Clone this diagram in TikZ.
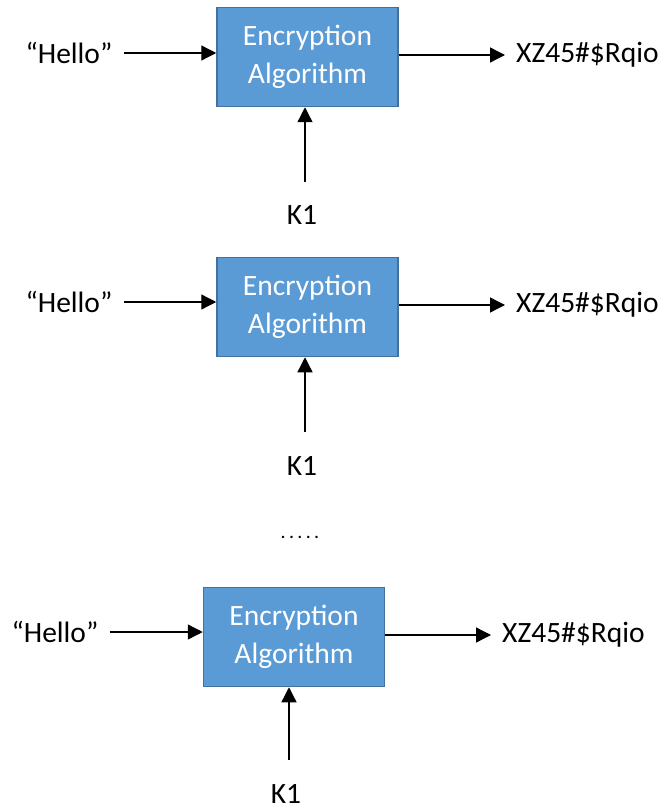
\documentclass[tikz,border=0pt]{standalone}
\usepackage{fontspec}
\setmainfont{Carlito}
\usetikzlibrary{arrows.meta,positioning}
\definecolor{BoxBlue}{RGB}{91,155,213}
\definecolor{BoxEdge}{RGB}{65,113,156}
\tikzset{
  encbox/.style={draw=BoxEdge,fill=BoxBlue,line width=1.5pt,
                 minimum width=181pt,minimum height=99pt,
                 text=white,align=center,inner sep=0pt,
                 font=\fontsize{29.5}{38}\selectfont},
  lbl/.style={font=\fontsize{29.5}{34}\selectfont,inner sep=11pt},
  keylbl/.style={font=\fontsize{29.5}{34}\selectfont,inner sep=2pt},
  arr/.style={-{Triangle[length=15pt,width=15pt]},line width=1.3pt},
}
\begin{document}
\begin{tikzpicture}[x=1pt,y=-1pt]
  \useasboundingbox (0,0) rectangle (662,810);

  % first round
  \node[encbox] (enc1) at (307.5,57) {Encryption\\Algorithm};
  \node[lbl] (msg1) at (69,53) {“Hello”};
  \node[lbl,anchor=west] (out1) at (505,55) {XZ45\#\$Rqio};
  \node[keylbl] (key1) at (302,215) {K1};
  \coordinate (k1) at (305,182);
  \draw[arr] (msg1.east) -- (msg1.east -| enc1.west);
  \draw[arr] (enc1.east |- out1.west) -- (out1.west);
  \draw[arr] (k1) -- (k1 |- enc1.south);

  % second round
  \node[encbox] (enc2) at (307.5,307) {Encryption\\Algorithm};
  \node[lbl] (msg2) at (69,302) {“Hello”};
  \node[lbl,anchor=west] (out2) at (505,305) {XZ45\#\$Rqio};
  \node[keylbl] (key2) at (302,466) {K1};
  \coordinate (k2) at (305,432);
  \draw[arr] (msg2.east) -- (msg2.east -| enc2.west);
  \draw[arr] (enc2.east |- out2.west) -- (out2.west);
  \draw[arr] (k2) -- (k2 |- enc2.south);

  \node[anchor=base,font=\fontsize{20}{24}\selectfont] (dots) at (300,538) {.\,.\,.\,.\,.};

  % last round
  \node[encbox] (enc3) at (294,637) {Encryption\\Algorithm};
  \node[lbl] (msg3) at (55,632) {“Hello”};
  \node[lbl,anchor=west] (out3) at (491,635) {XZ45\#\$Rqio};
  \node[keylbl] (key3) at (286,794) {K1};
  \coordinate (k3) at (289,760);
  \draw[arr] (msg3.east) -- (msg3.east -| enc3.west);
  \draw[arr] (enc3.east |- out3.west) -- (out3.west);
  \draw[arr] (k3) -- (k3 |- enc3.south);
\end{tikzpicture}
\end{document}
